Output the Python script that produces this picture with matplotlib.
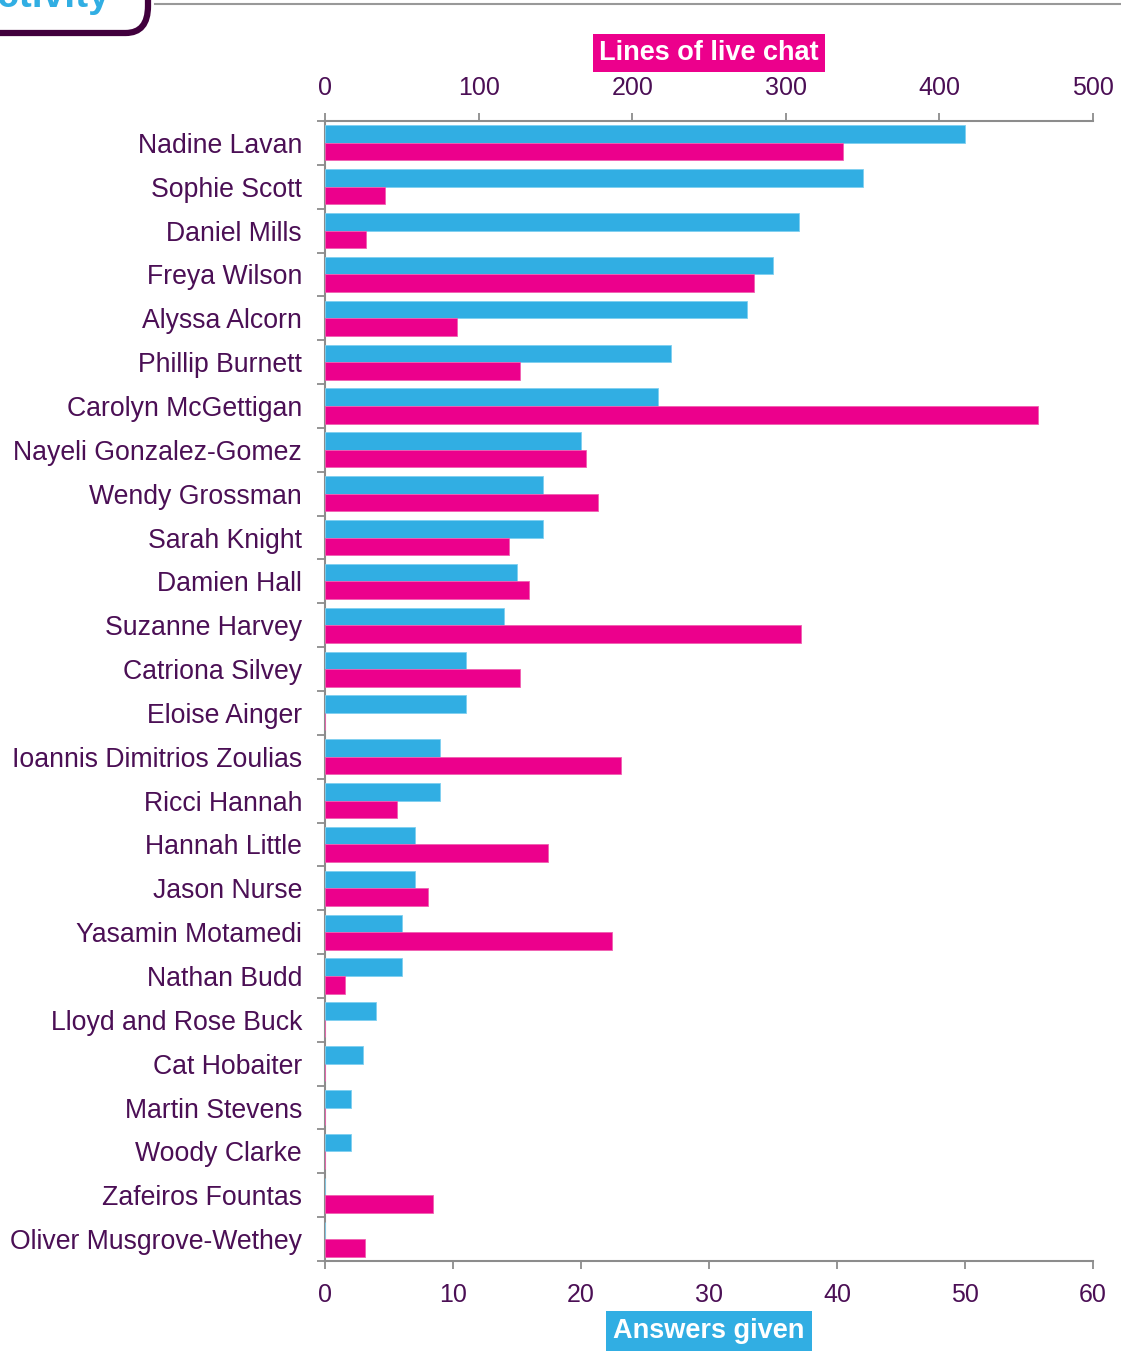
import matplotlib
matplotlib.use("Agg")
import matplotlib.pyplot as plt
from matplotlib.patches import FancyBboxPatch
from matplotlib.lines import Line2D
import numpy as np

plt.rcParams['font.family'] = ['Liberation Sans', 'DejaVu Sans']

names = ["Nadine Lavan", "Sophie Scott", "Daniel Mills", "Freya Wilson", "Alyssa Alcorn",
         "Phillip Burnett", "Carolyn McGettigan", "Nayeli Gonzalez-Gomez", "Wendy Grossman",
         "Sarah Knight", "Damien Hall", "Suzanne Harvey", "Catriona Silvey", "Eloise Ainger",
         "Ioannis Dimitrios Zoulias", "Ricci Hannah", "Hannah Little", "Jason Nurse",
         "Yasamin Motamedi", "Nathan Budd", "Lloyd and Rose Buck", "Cat Hobaiter",
         "Martin Stevens", "Woody Clarke", "Zafeiros Fountas", "Oliver Musgrove-Wethey"]
answers = [50, 42, 37, 35, 33, 27, 26, 20, 17, 17, 15, 14, 11, 11, 9, 9, 7, 7, 6, 6, 4, 3, 2, 2, 0, 0]
chat_lines = [337, 39, 27, 279, 86, 127, 464, 170, 178, 120, 133, 310, 127, 0, 193, 47, 145, 67,
              187, 13, 0, 0, 0, 0, 70, 26]
answer_ticks = [0, 10, 20, 30, 40, 50, 60]
chat_ticks = [0, 100, 200, 300, 400, 500]

BLUE = "#31aee3"
MAGENTA = "#ec008c"
PURPLE = "#4b0f55"
GRAY = "#8c8c8c"

W, H = 1121, 1351
fig = plt.figure(figsize=(W / 100, H / 100), dpi=100)
ax = fig.add_axes([325 / W, 90 / H, 768 / W, 1140 / H])
ax2 = ax.twiny()

y = np.arange(len(names))
ax.barh(y - 0.2, answers, height=0.4, color=BLUE, edgecolor="#7fd0f0", linewidth=0.6, zorder=3)
ax2.barh(y + 0.2, chat_lines, height=0.4, color=MAGENTA, edgecolor="#f060b0", linewidth=0.6, zorder=3)

ax.set_xlim(0, 60)
ax2.set_xlim(0, 500)
ax.set_ylim(len(names) - 0.5, -0.5)

ax.set_xticks(answer_ticks)
ax2.set_xticks(chat_ticks)
ax.set_yticks(y)
ax.set_yticklabels(names)
ax.set_yticks(np.arange(len(names) + 1) - 0.5, minor=True)

for a in (ax, ax2):
    for s in a.spines.values():
        s.set_visible(False)
ax.spines['bottom'].set_visible(True)
ax.spines['left'].set_visible(True)
ax2.spines['top'].set_visible(True)
for s in (ax.spines['bottom'], ax.spines['left'], ax2.spines['top']):
    s.set_color(GRAY)
    s.set_linewidth(1.5)

ax.tick_params(axis='x', direction='out', length=6, width=1.3, color=GRAY,
               labelcolor=PURPLE, labelsize=18, pad=10)
ax2.tick_params(axis='x', direction='out', length=6, width=1.3, color=GRAY,
                labelcolor=PURPLE, labelsize=18, pad=9)
ax.tick_params(axis='y', which='major', length=0, labelcolor=PURPLE, labelsize=19.2, pad=16.5)
ax.tick_params(axis='y', which='minor', direction='out', length=6, width=1.3, color=GRAY)

# Axis title boxes
fig.text(709 / W, 1 - 53 / H, "Lines of live chat", color="white", fontsize=19.5,
         fontweight='bold', ha='center', va='center',
         bbox=dict(boxstyle='square,pad=0.22', facecolor=MAGENTA, edgecolor='none'))
fig.text(709 / W, 1 - 1331 / H, "Answers given", color="white", fontsize=19.5,
         fontweight='bold', ha='center', va='center',
         bbox=dict(boxstyle='square,pad=0.26', facecolor=BLUE, edgecolor='none'))

# Header fragment at top-left (cut off by the top edge, as in the reference)
box = FancyBboxPatch((0, 0), 1, 1, boxstyle="round,pad=0,rounding_size=0.02",
                     transform=fig.transFigure, facecolor='white', edgecolor="#41003d",
                     linewidth=4.5, zorder=5)
box.set_bounds(-60 / W, 1 - 33 / H, 208 / W, 120 / H)
fig.patches.append(box)
fig.text(110 / W, 1 - 7 / H, "Activity", color=BLUE, fontsize=28, fontweight='bold',
         ha='right', va='baseline', zorder=6)
fig.add_artist(Line2D([155 / W, 1.0], [1 - 4 / H, 1 - 4 / H], transform=fig.transFigure,
                      color="#999999", linewidth=1.5))

fig.savefig("out.png", dpi=100)
